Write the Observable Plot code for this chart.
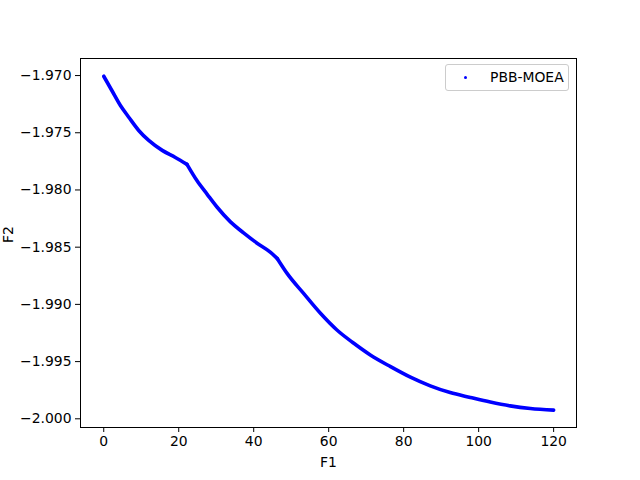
<!DOCTYPE html>
<html>
<head>
<meta charset="utf-8">
<script src="https://cdn.jsdelivr.net/npm/d3@7"></script>
<script src="https://cdn.jsdelivr.net/npm/@observablehq/plot@0.6"></script>
<style>
  html, body { margin: 0; padding: 0; background: #fff; }
  #wrap { position: relative; width: 640px; height: 480px; font-family: "DejaVu Sans", sans-serif; }
  #legend { position: absolute; left: 445px; top: 64px; width: 124px; height: 27px; border: 1px solid #cccccc; border-radius: 3px; background: rgba(255,255,255,0.8); box-sizing: border-box; }
  #legend .dot { position: absolute; left: 18px; top: 11px; width: 3px; height: 3px; border-radius: 50%; background: #0000ff; }
  #legend .lab { position: absolute; left: 44px; top: 3px; font-size: 13.9px; color: #000; line-height: 18px; white-space: nowrap; }
</style>
</head>
<body>
<div id="wrap"></div>
<script>
const seriesName = "PBB-MOEA";
const f1 = [0, 2.24, 4.45, 6.67, 9.33, 12, 15.6, 19.1, 22.2, 24.9, 27.6, 30.2, 33.8, 37.3, 40.9, 44.5, 46.3, 48.9, 53.3, 57.8, 62.2, 66.7, 71.1, 76.5, 81.8, 87.1, 92.4, 97.8, 103.1, 108.4, 113.8, 120];
const f2 = [-1.97006, -1.97135, -1.97262, -1.97364, -1.97480, -1.97567, -1.97654, -1.97716, -1.97776, -1.97920, -1.98038, -1.98149, -1.98279, -1.98375, -1.98465, -1.98545, -1.98600, -1.98729, -1.98904, -1.99078, -1.99224, -1.99340, -1.99442, -1.99544, -1.99636, -1.99712, -1.99771, -1.99814, -1.99854, -1.99887, -1.99910, -1.99924];
// F1 values where the front has corners (break points between branches)
const kinks = [22.2, 46.3];
const xTicks = [0, 20, 40, 60, 80, 100, 120];
const yTicks = [-1.970, -1.975, -1.980, -1.985, -1.990, -1.995, -2.000];
const xLabel = "F1";
const yLabel = "F2";

const pts = f1.map((x, i) => ({x, y: f2[i]}));
const bounds = [-Infinity, ...kinks, Infinity];
const data = [];
for (let s = 0; s < bounds.length - 1; s++) {
  for (const p of pts) if (p.x >= bounds[s] && p.x <= bounds[s + 1]) data.push({...p, seg: s});
}
const fmt3 = d3.format(".3f");

const chart = Plot.plot({
  width: 640,
  height: 480,
  marginLeft: 80,
  marginRight: 64,
  marginTop: 58,
  marginBottom: 53,
  style: {fontFamily: "DejaVu Sans, sans-serif", fontSize: "13.9px", color: "#000", background: "#fff"},
  x: {domain: [-6.2, 126.1], ticks: xTicks},
  y: {domain: [-2.00076, -1.96851], ticks: yTicks},
  marks: [
    Plot.line(data, {x: "x", y: "y", z: "seg", curve: "monotone-x", stroke: "#0000ff", strokeWidth: 3.6, strokeLinejoin: "round", strokeLinecap: "round"}),
    Plot.frame({stroke: "#000", strokeWidth: 1}),
    Plot.axisX({ticks: xTicks, tickSize: 5, tickPadding: 4, label: null, tickFormat: d => String(d), stroke: "#000"}),
    Plot.axisY({ticks: yTicks, tickSize: 5, tickPadding: 4, label: null, tickFormat: d => fmt3(d), stroke: "#000"}),
    Plot.text([xLabel], {frameAnchor: "bottom", dy: 35, text: d => d, fontSize: 13.9, lineAnchor: "middle", fill: "#000"}),
    Plot.text([yLabel], {frameAnchor: "left", dx: -72, text: d => d, fontSize: 13.9, rotate: -90, lineAnchor: "middle", fill: "#000"})
  ]
});

const wrap = document.getElementById("wrap");
wrap.appendChild(chart);
const lg = document.createElement("div");
lg.id = "legend";
lg.innerHTML = '<div class="dot"></div><div class="lab"></div>';
lg.querySelector(".lab").textContent = seriesName;
wrap.appendChild(lg);
</script>
</body>
</html>
